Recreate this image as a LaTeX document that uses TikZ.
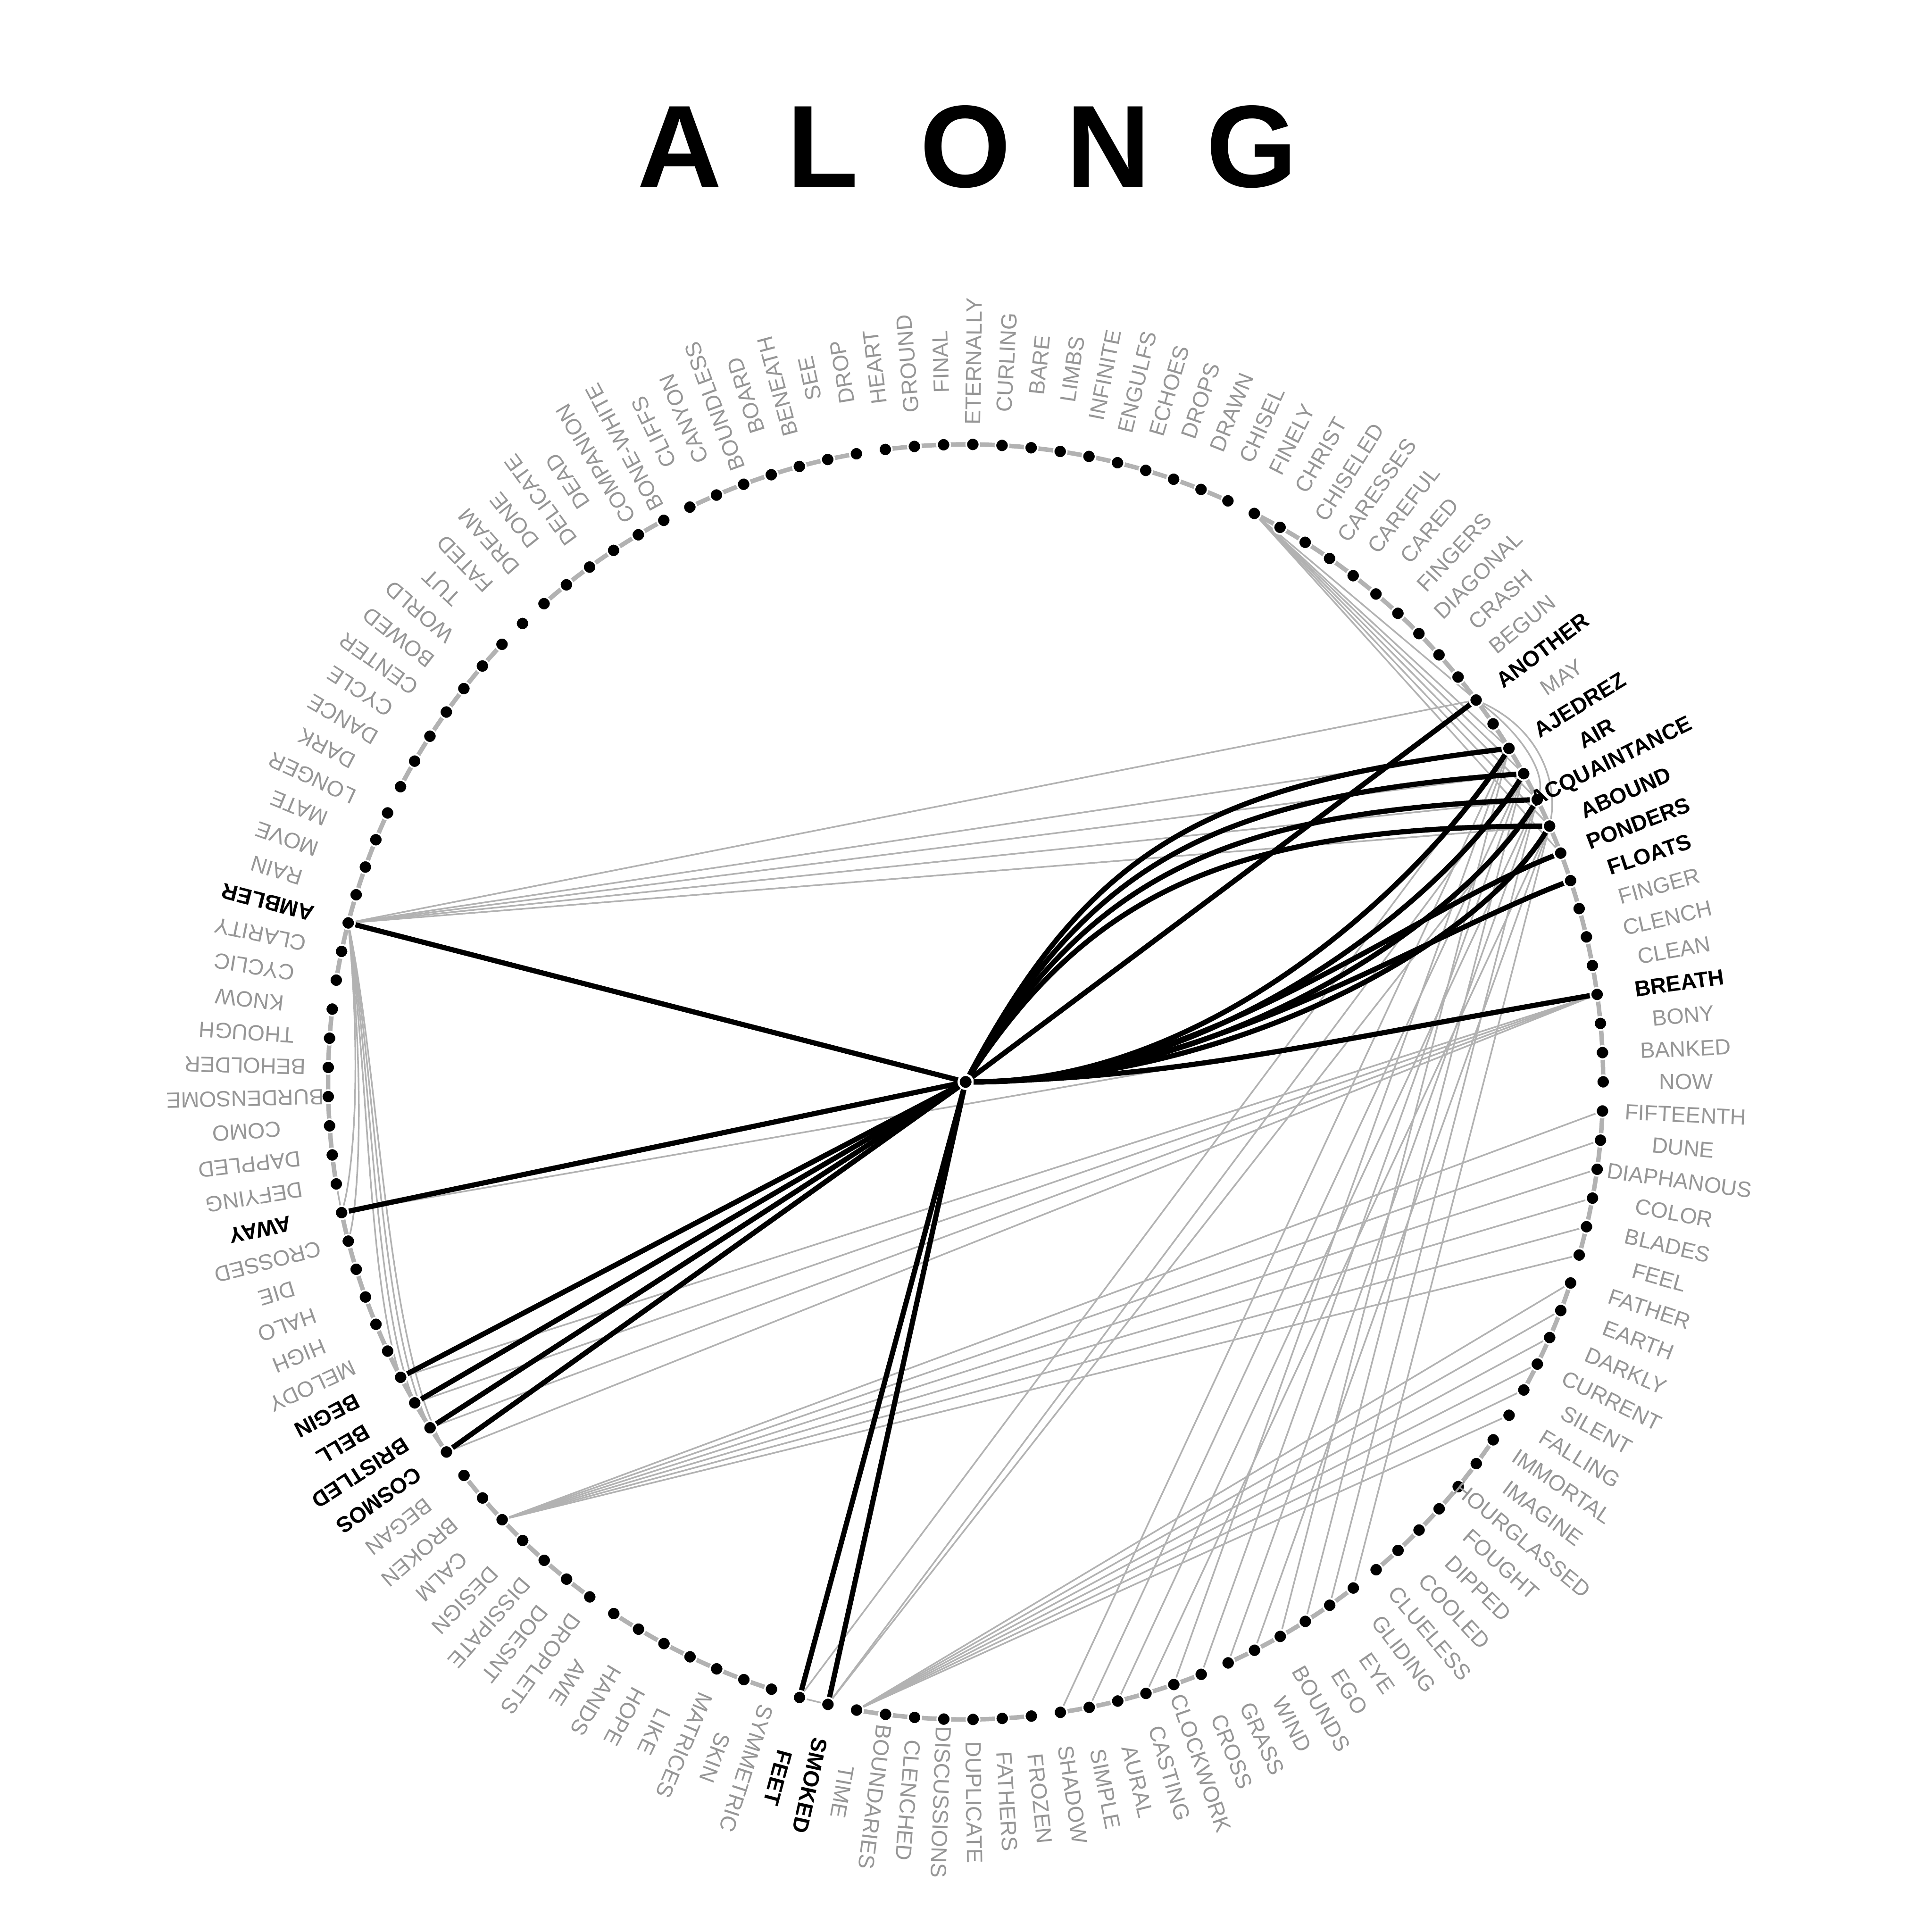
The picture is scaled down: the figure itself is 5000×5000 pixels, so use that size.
\documentclass[tikz,border=0pt]{standalone}
\usepackage{fontspec}
\setmainfont{Liberation Sans}
\pgfdeclarelayer{bg}
\pgfsetlayers{bg,main}
\definecolor{labgray}{RGB}{150,150,150}
\definecolor{edgegray}{RGB}{178,178,178}
\begin{document}
\begin{tikzpicture}[x=0.01cm,y=0.01cm,
  dot/.style={circle,fill=black,draw=white,line width=1.2pt,minimum size=0.34cm,inner sep=0pt},
  labg/.style={text=labgray,font=\fontsize{16.2}{19}\selectfont,inner sep=0pt},
  labb/.style={text=black,font=\fontsize{16.2}{19}\selectfont\bfseries,inner sep=0pt},
  blk/.style={line width=3.8pt,black},
  gr/.style={line width=1.2pt,edgegray},
  band/.style={line width=3.3pt,edgegray}]
\useasboundingbox (-2499,-2200) rectangle (2501,2800);
\node[font=\fontsize{86}{90}\selectfont\bfseries,inner sep=0pt] (title) at (0,2420)
  {\makebox[3.7cm]{A}\makebox[3.7cm]{L}\makebox[3.7cm]{O}\makebox[3.7cm]{N}\makebox[3.7cm]{G}};
\node[dot,minimum size=0.36cm,line width=1.5pt] (ALONG) at (0,0) {};
\foreach \w/\s [count=\i] in {FINAL/g,ETERNALLY/g,CURLING/g,BARE/g,LIMBS/g,INFINITE/g,ENGULFS/g,ECHOES/g,DROPS/g,DRAWN/g,CHISEL/g,FINELY/g,CHRIST/g,CHISELED/g,CARESSES/g,CAREFUL/g,CARED/g,FINGERS/g,DIAGONAL/g,CRASH/g,BEGUN/g,ANOTHER/b,MAY/g,AJEDREZ/b,AIR/b,ACQUAINTANCE/b,ABOUND/b,PONDERS/b,FLOATS/b,FINGER/g,CLENCH/g,CLEAN/g,BREATH/b,BONY/g,BANKED/g,NOW/g,FIFTEENTH/g,DUNE/g,DIAPHANOUS/g,COLOR/g,BLADES/g,FEEL/g,FATHER/g,EARTH/g,DARKLY/g,CURRENT/g,SILENT/g,FALLING/g,IMMORTAL/g,IMAGINE/g,HOURGLASSED/g,FOUGHT/g,DIPPED/g,COOLED/g,CLUELESS/g,GLIDING/g,EYE/g,EGO/g,BOUNDS/g,WIND/g,GRASS/g,CROSS/g,CLOCKWORK/g,CASTING/g,AURAL/g,SIMPLE/g,SHADOW/g,FROZEN/g,FATHERS/g,DUPLICATE/g,DISCUSSIONS/g,CLENCHED/g,BOUNDARIES/g,TIME/g,SMOKED/b,FEET/b,SYMMETRIC/g,SKIN/g,MATRICES/g,LIKE/g,HOPE/g,HANDS/g,AWE/g,DROPLETS/g,DOESNT/g,DISSIPATE/g,DESIGN/g,CALM/g,BROKEN/g,BEGAN/g,COSMOS/b,BRISTLED/b,BELL/b,BEGIN/b,MELODY/g,HIGH/g,HALO/g,DIE/g,CROSSED/g,AWAY/b,DEFYING/g,DAPPLED/g,COMO/g,BURDENSOME/g,BEHOLDER/g,THOUGH/g,KNOW/g,CYCLIC/g,CLARITY/g,AMBLER/b,RAIN/g,MOVE/g,MATE/g,LONGER/g,DARK/g,DANCE/g,CYCLE/g,CENTER/g,BOWED/g,WORLD/g,TUT/g,FATED/g,DREAM/g,DONE/g,DELICATE/g,DEAD/g,COMPANION/g,BONE-WHITE/g,CLIFFS/g,CANYON/g,BOUNDLESS/g,BOARD/g,BENEATH/g,SEE/g,DROP/g,HEART/g,GROUND/g}{
  \pgfmathsetmacro\ang{91.98-(\i-1)*2.627737}
  \node[dot] (\w) at (\ang:1650) {};
  \node[lab\s,rotate=\ang] (\w-l) at (\ang:1865) {\w};
}
\begin{pgfonlayer}{bg}
\fill[white] (-2499,-2200) rectangle (2501,2800);
% bands along the circle
\foreach \a/\b in {1/11,12/36,37/42,43/47,49/55,56/61,62/67,68/74,77/83,84/90,91/100,101/107,108/114,115/121,123/128,129/135,136/138}{
  \pgfmathsetmacro\sa{91.98-(\a-1)*2.627737}
  \pgfmathsetmacro\ea{91.98-(\b-1)*2.627737}
  \draw[band] (\sa:1650) arc[start angle=\sa, end angle=\ea, radius=1650];
}
\draw[gr] (SMOKED) -- (FEET);
\draw[gr] (AWAY) -- (DEFYING);
% gray edges
\foreach \t in {ANOTHER,AJEDREZ,AIR,ACQUAINTANCE,ABOUND} \draw[gr] (AMBLER) -- (\t);
\draw[gr] (AMBLER) .. controls (-1545,0) and (-1545,-500) .. (BEGIN);
\draw[gr] (AMBLER) .. controls (-1535,0) and (-1530,-560) .. (BELL);
\draw[gr] (AMBLER) .. controls (-1525,0) and (-1515,-620) .. (BRISTLED);
\draw[gr] (AMBLER) .. controls (-1515,0) and (-1500,-680) .. (COSMOS);
\draw[gr] (AMBLER) .. controls (-1560,0) and (-1590,-250) .. (AWAY);
\draw[gr] (AMBLER) .. controls (-1555,0) and (-1570,-300) .. (CROSSED);
\foreach \t in {AWAY,BEGIN,BELL,BRISTLED,COSMOS} \draw[gr] (BREATH) -- (\t);
\foreach \t in {FIFTEENTH,DUNE,DIAPHANOUS,COLOR,BLADES,FEEL} \draw[gr] (CALM) -- (\t);
\foreach \t in {FATHER,EARTH,DARKLY,CURRENT,SILENT,FALLING} \draw[gr] (TIME) -- (\t);
\foreach \f/\t in {SHADOW/AJEDREZ,SIMPLE/AIR,AURAL/ACQUAINTANCE,CASTING/ABOUND,CLOCKWORK/AJEDREZ,CROSS/AIR,GRASS/ACQUAINTANCE,WIND/ABOUND,BOUNDS/AJEDREZ,EGO/AIR,EYE/ACQUAINTANCE,GLIDING/ABOUND,FEET/AJEDREZ,SMOKED/AIR,SMOKED/ACQUAINTANCE}
  \draw[gr] (\f) -- (\t);
\foreach \t in {ANOTHER,AJEDREZ,AIR,ACQUAINTANCE,ABOUND,PONDERS} \draw[gr] (FINELY) -- (\t);
\draw[gr] (ANOTHER) .. controls (1491,910) and (1531,770) .. (ABOUND);
\draw[gr] (ANOTHER) .. controls (1440,900) and (1500,800) .. (ACQUAINTANCE);
% black edges
\foreach \t in {ANOTHER,AMBLER,AWAY,BEGIN,BELL,BRISTLED,COSMOS,SMOKED,FEET} \draw[blk] (ALONG) -- (\t);
\draw[blk] (ALONG) .. controls (330,620) and (640,770) .. (AJEDREZ);
\draw[blk] (ALONG) .. controls (330,580) and (660,740) .. (AIR);
\draw[blk] (ALONG) .. controls (330,540) and (680,700) .. (ACQUAINTANCE);
\draw[blk] (ALONG) .. controls (330,500) and (700,660) .. (ABOUND);
\draw[blk] (ALONG) .. controls (650,0) and (1200,540) .. (AJEDREZ);
\draw[blk] (ALONG) .. controls (650,0) and (1240,470) .. (AIR);
\draw[blk] (ALONG) .. controls (650,0) and (1275,400) .. (ACQUAINTANCE);
\draw[blk] (ALONG) .. controls (650,0) and (1305,330) .. (ABOUND);
\draw[blk] (ALONG) .. controls (600,0) and (1150,440) .. (PONDERS);
\draw[blk] (ALONG) .. controls (600,0) and (1170,370) .. (FLOATS);
\draw[blk] (ALONG) .. controls (550,10) and (900,100) .. (BREATH);
\end{pgfonlayer}
\end{tikzpicture}
\end{document}
